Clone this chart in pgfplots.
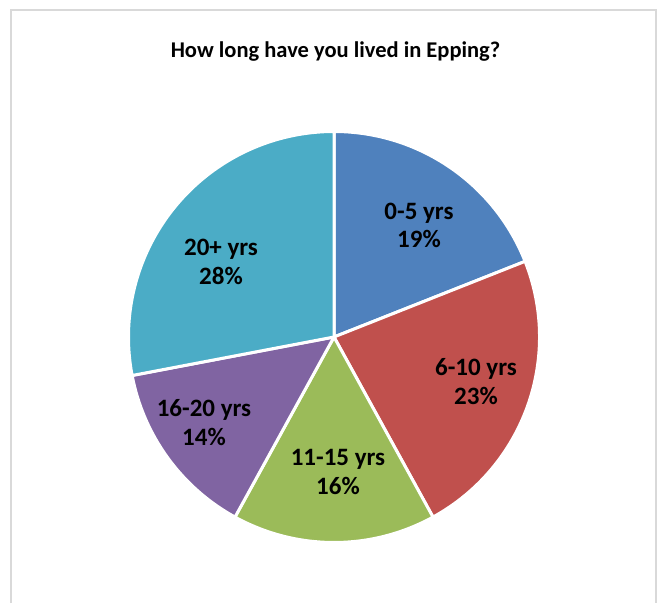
\documentclass[border=0pt]{standalone}
\usepackage{fontspec}
\setmainfont{Carlito}
\usepackage{pgfplots}
\usepackage{pgfplotstable}
\pgfplotsset{compat=1.18}

\definecolor{c1}{HTML}{4F81BD}
\definecolor{c2}{HTML}{C0504D}
\definecolor{c3}{HTML}{9BBB59}
\definecolor{c4}{HTML}{8064A2}
\definecolor{c5}{HTML}{4BACC6}
\definecolor{frame}{HTML}{D9D9D9}

\newcommand\lbl{\bfseries\fontsize{25bp}{29bp}\selectfont}

% share (%), colour, label position (image pixels, y from top)
\pgfplotstableread{
pct col lx ly name
19 c1 419 219.5 {0-5 yrs}
23 c2 476 376 {6-10 yrs}
16 c3 338 465.7 {11-15 yrs}
14 c4 204 416.7 {16-20 yrs}
28 c5 221 256 {20+ yrs}
}\piedata

\begin{document}
\begin{tikzpicture}
\begin{axis}[
    width=661bp, height=603bp, scale only axis,
    xmin=0, xmax=661, ymin=0, ymax=603,
    hide axis, clip=false,
]
\path[fill=white] (axis cs:0,0) rectangle (axis cs:661,603);
\draw[frame, line width=2bp] (axis cs:10.5,0) -- (axis cs:10.5,592.5)
    -- (axis cs:655.5,592.5) -- (axis cs:655.5,0);
\node[anchor=base, font=\bfseries\fontsize{22.5bp}{27bp}\selectfont]
    at (axis cs:335.5,545.7) {How long have you lived in Epping?};

\def\cum{0}
\pgfplotsforeachungrouped \i in {0,...,4}{
  \pgfplotstablegetelem{\i}{pct}\of\piedata \let\p\pgfplotsretval
  \pgfplotstablegetelem{\i}{col}\of\piedata \let\c\pgfplotsretval
  \pgfplotstablegetelem{\i}{lx}\of\piedata \let\lx\pgfplotsretval
  \pgfplotstablegetelem{\i}{ly}\of\piedata \let\ly\pgfplotsretval
  \pgfplotstablegetelem{\i}{name}\of\piedata \let\nm\pgfplotsretval
  \pgfmathsetmacro\a{90-3.6*\cum}
  \pgfmathsetmacro\b{90-3.6*(\cum+\p)}
  \pgfmathsetmacro\cum{\cum+\p}
  \pgfmathsetmacro\yA{603-\ly}
  \pgfmathsetmacro\yB{603-\ly-28.5}
  \edef\temp{%
    \noexpand\fill[\c, draw=white, line width=3bp] (axis cs:334,266)
      -- ++(\a:205.5bp) arc[start angle=\a, end angle=\b, radius=205.5bp] -- cycle;
    \noexpand\node[anchor=base, font=\noexpand\lbl] at (axis cs:\lx,\yA) {\nm};
    \noexpand\node[anchor=base, font=\noexpand\lbl] at (axis cs:\lx,\yB) {\p\noexpand\%};
  }%
  \temp
}
\end{axis}
\end{tikzpicture}
\end{document}
